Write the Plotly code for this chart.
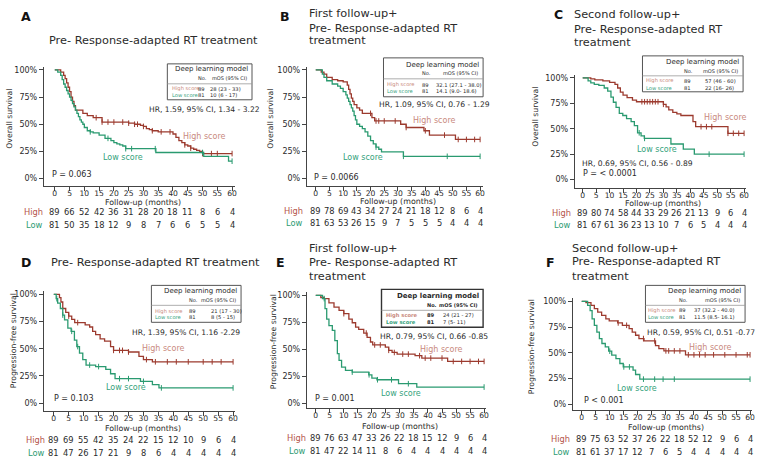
import plotly.graph_objects as go

W, H = 767, 459
FONT = "DejaVu Sans"
HIGH_C = "#9C3A2E"
LOW_C = "#2A9A70"
HIGH_T = "#C98A7E"
LOW_T = "#35A27C"
HIGH_ROW = "#B4554A"
LOW_ROW = "#2E9B73"
TXT = "#2b2b2b"

months = [0, 5, 10, 15, 20, 25, 30, 35, 40, 45, 50, 55, 60]
ytick_vals = [0, 0.25, 0.5, 0.75, 1.0]
ytick_text = ["0%", "25%", "50%", "75%", "100%"]

# ---------------- Panel A (OS, pre) ----------------
A_high_t = [0, 2, 3, 3.5, 4, 4.5, 5, 5.5, 6, 6.5, 7, 9.5, 11, 13, 16, 25, 27, 29, 30, 31, 32, 33, 35, 40, 41, 42, 43, 44, 45, 46, 47, 48, 49, 50, 60]
A_high_s = [1, 0.98, 0.95, 0.92, 0.88, 0.84, 0.80, 0.75, 0.71, 0.67, 0.63, 0.60, 0.58, 0.56, 0.52, 0.51, 0.50, 0.49, 0.48, 0.46, 0.45, 0.44, 0.43, 0.41, 0.38, 0.35, 0.33, 0.31, 0.30, 0.28, 0.27, 0.26, 0.25, 0.23, 0.23]
A_low_t = [0, 1, 2, 2.5, 3, 3.5, 4, 4.5, 5, 5.5, 6, 6.5, 7, 7.5, 8, 8.5, 9, 9.5, 10, 11, 12, 13, 15, 17, 19, 20, 21, 22, 23, 24, 34.2, 50.4, 58.8, 60]
A_low_s = [1, 0.98, 0.95, 0.91, 0.87, 0.84, 0.81, 0.78, 0.75, 0.72, 0.69, 0.66, 0.63, 0.60, 0.57, 0.54, 0.52, 0.50, 0.47, 0.44, 0.43, 0.42, 0.40, 0.37, 0.35, 0.33, 0.32, 0.31, 0.30, 0.275, 0.24, 0.205, 0.16, 0.16]
A_high_cens = [14, 16, 18, 20, 23, 25, 27, 28, 30, 33, 36, 39, 44, 46, 50, 53, 55, 60]
A_low_cens = [12, 18, 24, 26, 34, 50, 60]
A_risk_high = [89, 66, 52, 42, 36, 31, 28, 20, 18, 11, 8, 6, 4]
A_risk_low = [81, 50, 35, 18, 12, 9, 8, 7, 6, 6, 5, 5, 4]

# ---------------- Panel B (OS, first follow-up) ----------------
B_high_t = [0, 2, 3, 4, 6, 8, 10, 11.5, 12, 12.5, 13, 13.5, 14, 15, 16, 17, 20.5, 21.5, 31, 33, 39.5, 41.5, 51, 60]
B_high_s = [1, 0.98, 0.96, 0.93, 0.91, 0.90, 0.89, 0.86, 0.82, 0.78, 0.74, 0.71, 0.68, 0.65, 0.63, 0.60, 0.56, 0.53, 0.50, 0.47, 0.44, 0.40, 0.36, 0.36]
B_low_t = [0, 2.4, 3, 4, 6, 8, 9, 10, 11, 11.5, 12, 12.5, 13, 13.5, 14, 14.5, 15, 16, 17, 18, 19, 20, 21, 22, 23, 24, 32, 60]
B_low_s = [1, 0.96, 0.93, 0.90, 0.87, 0.85, 0.83, 0.80, 0.77, 0.74, 0.71, 0.68, 0.65, 0.62, 0.58, 0.54, 0.50, 0.48, 0.46, 0.43, 0.39, 0.35, 0.32, 0.29, 0.27, 0.245, 0.205, 0.205]
B_high_cens = [20, 22, 23, 25, 29, 33, 40, 47, 52, 55, 58, 60]
B_low_cens = [22, 32, 48, 60]
B_risk_high = [89, 78, 69, 43, 34, 27, 24, 21, 18, 12, 8, 6, 4]
B_risk_low = [81, 63, 53, 26, 15, 9, 7, 5, 5, 5, 4, 4, 4]

# ---------------- Panel C (OS, second follow-up) ----------------
C_high_t = [0, 3, 4.5, 7.5, 10, 12, 13, 14, 15, 16.5, 18.5, 20, 30, 31, 32, 33.5, 35, 36.5, 41, 42, 54, 60]
C_high_s = [1, 0.99, 0.98, 0.97, 0.955, 0.935, 0.90, 0.86, 0.83, 0.805, 0.78, 0.765, 0.74, 0.715, 0.685, 0.66, 0.645, 0.63, 0.57, 0.52, 0.455, 0.455]
C_low_t = [0, 2, 3, 4.3, 6, 8, 9.3, 10.5, 11.4, 12.4, 13.6, 14.9, 16.3, 18, 19.2, 20.4, 21.7, 22.9, 32.8, 37.4, 41.5, 60]
C_low_s = [1, 0.97, 0.95, 0.935, 0.925, 0.90, 0.87, 0.81, 0.76, 0.71, 0.65, 0.63, 0.60, 0.57, 0.53, 0.46, 0.43, 0.405, 0.35, 0.30, 0.25, 0.25]
C_high_cens = [22, 23, 24, 25, 26, 27, 28, 30, 44, 46, 48, 54, 56, 58, 60]
C_low_cens = [21, 23, 47, 60]
C_risk_high = [89, 80, 74, 58, 44, 33, 29, 26, 21, 13, 9, 6, 4]
C_risk_low = [81, 67, 61, 36, 23, 13, 10, 7, 6, 5, 4, 4, 4]

# ---------------- Panel D (PFS, pre) ----------------
D_high_t = [0, 1.9, 2.4, 3, 4, 5, 6, 7, 10.5, 12, 13, 14, 15.5, 17, 19, 20, 25, 28.5, 30, 33, 60]
D_high_s = [1, 0.97, 0.93, 0.87, 0.835, 0.80, 0.77, 0.74, 0.72, 0.70, 0.66, 0.63, 0.59, 0.57, 0.52, 0.485, 0.47, 0.43, 0.40, 0.38, 0.38]
D_low_t = [0, 0.8, 1.3, 2.2, 3, 3.6, 4.7, 5.8, 6.9, 7.7, 8.6, 9.7, 10.8, 14, 17.4, 19, 20.5, 29, 33, 35.2, 60]
D_low_s = [1, 0.96, 0.92, 0.87, 0.81, 0.765, 0.69, 0.66, 0.58, 0.52, 0.46, 0.40, 0.35, 0.336, 0.31, 0.27, 0.225, 0.20, 0.17, 0.14, 0.14]
D_high_cens = [5, 8, 20, 22, 23, 25, 31, 34, 38, 41, 45, 50, 53, 56, 60]
D_low_cens = [1, 3, 6, 8, 12, 15, 22, 25, 30, 36, 60]
D_risk_high = [89, 69, 55, 42, 35, 24, 22, 15, 12, 10, 9, 6, 4]
D_risk_low = [81, 47, 26, 17, 21, 9, 8, 6, 4, 4, 4, 4, 4]

# ---------------- Panel E (PFS, first follow-up) ----------------
E_high_t = [0, 1.8, 3, 4.7, 6.5, 8.3, 10, 11.8, 13, 14.2, 15.3, 17.1, 18.3, 19.5, 20.3, 24.8, 26, 27.2, 29, 35.4, 37.8, 47, 60]
E_high_s = [1, 0.98, 0.97, 0.93, 0.89, 0.86, 0.83, 0.78, 0.746, 0.706, 0.684, 0.65, 0.61, 0.567, 0.54, 0.52, 0.49, 0.47, 0.455, 0.44, 0.418, 0.387, 0.387]
E_low_t = [0, 2.4, 3.3, 3.9, 4.7, 5.9, 6.8, 7.7, 8.3, 9.2, 10.6, 13, 18.9, 20, 21.8, 29.5, 36, 60]
E_low_s = [1, 0.97, 0.876, 0.78, 0.72, 0.675, 0.58, 0.46, 0.396, 0.334, 0.303, 0.288, 0.263, 0.232, 0.217, 0.18, 0.149, 0.149]
E_high_cens = [10, 18, 21, 23, 26, 28, 31, 33, 37, 39, 41, 45, 49, 52, 55, 58, 60]
E_low_cens = [3, 13, 19, 22, 27, 33, 60]
E_risk_high = [89, 76, 63, 47, 33, 26, 22, 18, 15, 12, 9, 6, 4]
E_risk_low = [81, 47, 22, 14, 11, 8, 6, 4, 4, 4, 4, 4, 4]

# ---------------- Panel F (PFS, second follow-up) ----------------
F_high_t = [0, 1.5, 3.3, 4.5, 5.7, 7.1, 8.6, 9.8, 12.8, 14.5, 16.9, 18, 19.2, 20.4, 22.2, 26.3, 27.5, 29.3, 37, 60]
F_high_s = [1, 0.987, 0.96, 0.93, 0.896, 0.864, 0.83, 0.81, 0.79, 0.767, 0.735, 0.70, 0.67, 0.638, 0.615, 0.57, 0.54, 0.518, 0.48, 0.48]
F_low_t = [0, 2.1, 3, 3.7, 4.5, 5.4, 6.3, 7.2, 8.4, 9.6, 10.7, 12.2, 13.6, 14.8, 18.3, 19.2, 20.7, 60]
F_low_s = [1, 0.96, 0.91, 0.83, 0.767, 0.70, 0.638, 0.59, 0.557, 0.515, 0.476, 0.443, 0.395, 0.362, 0.33, 0.288, 0.243, 0.243]
F_high_cens = [13, 16, 22, 26, 30, 31, 33, 35, 38, 40, 42, 44, 47, 51, 55, 59, 60]
F_low_cens = [10, 15, 17, 22, 26, 29, 33, 60]
F_risk_high = [89, 75, 63, 52, 37, 26, 22, 18, 52, 12, 9, 6, 4]
F_risk_low = [81, 61, 37, 17, 12, 7, 6, 5, 4, 4, 4, 4, 4]

titles = {
    "A": ["Pre- Response-adapted RT treatment"],
    "B": ["First follow-up+", "Pre- Response-adapted RT", "treatment"],
    "C": ["Second follow-up+", "Pre- Response-adapted RT", "treatment"],
    "D": ["Pre- Response-adapted RT treatment"],
    "E": ["First follow-up+", "Pre- Response-adapted RT", "treatment"],
    "F": ["Second follow-up+", "Pre- Response-adapted RT", "treatment"],
}
ylabels = {"A": "Overall survival", "B": "Overall survival", "C": "Overall survival",
           "D": "Progression-free survival", "E": "Progression-free survival", "F": "Progression-free survival"}
n_high, n_low = 89, 81
mos_high = {"A": "28 (23 - 33)", "B": "32.1 (27.1 - 38.0)", "C": "57 (46 - 60)",
            "D": "21 (17 - 30)", "E": "24 (21 - 27)", "F": "37 (32.2 - 40.0)"}
mos_low = {"A": "10 (6 - 17)", "B": "14.1 (9.0- 18.6)", "C": "22 (16- 26)",
           "D": "8 (5 - 15)", "E": "7 (5- 11)", "F": "11.5 (8.5- 16.1)"}
hr_text = {"A": "HR, 1.59, 95% CI, 1.34 - 3.22", "B": "HR, 1.09, 95% CI, 0.76 - 1.29",
           "C": "HR, 0.69, 95% CI, 0.56 - 0.89", "D": "HR, 1.39, 95% CI, 1.16 -2.29",
           "E": "HR, 0.79, 95% CI, 0.66 -0.85", "F": "HR, 0.59, 95% CI, 0.51 -0.77"}
p_text = {"A": "P = 0.063", "B": "P = 0.0066", "C": "P = < 0.0001",
          "D": "P = 0.103", "E": "P = 0.001", "F": "P < 0.001"}

data = {
    "A": (A_high_t, A_high_s, A_low_t, A_low_s, A_high_cens, A_low_cens, A_risk_high, A_risk_low),
    "B": (B_high_t, B_high_s, B_low_t, B_low_s, B_high_cens, B_low_cens, B_risk_high, B_risk_low),
    "C": (C_high_t, C_high_s, C_low_t, C_low_s, C_high_cens, C_low_cens, C_risk_high, C_risk_low),
    "D": (D_high_t, D_high_s, D_low_t, D_low_s, D_high_cens, D_low_cens, D_risk_high, D_risk_low),
    "E": (E_high_t, E_high_s, E_low_t, E_low_s, E_high_cens, E_low_cens, E_risk_high, E_risk_low),
    "F": (F_high_t, F_high_s, F_low_t, F_low_s, F_high_cens, F_low_cens, F_risk_high, F_risk_low),
}

# ---------------- geometry (pixels) ----------------
G = {
    "A": dict(left=44, right=236, x0=55, x60=233, top=69, zero=178, bottom=185,
              letter=(26, 16), title=(47, [40]), ylab=(10, 118), rows=(211, 224), rowlab=45, fu=201.5,
              box=(168, 253, 63, 99), hdr=68, sub=77, sep=83, r1=88, r2=94, c1=171, c2=197, c3=209,
              hr=(148, 109), p=(50, 174), hl=(205, 136), ll=(123, 157), bold=False),
    "B": dict(left=308, right=485, x0=317, x60=482, top=69, zero=178, bottom=185,
              letter=(286, 16), title=(308, [13, 28, 40]), ylab=(272, 118), rows=(210.5, 222.5), rowlab=306, fu=201,
              box=(385, 485, 57, 96), hdr=64, sub=72, sep=78, r1=84, r2=90, c1=387, c2=422, c3=436,
              hr=(378, 104), p=(313, 177), hl=(436, 120), ll=(364, 157), bold=False),
    "C": dict(left=577, right=749, x0=585, x60=747, top=77, zero=179, bottom=187,
              letter=(561, 14), title=(574, [14, 29, 42]), ylab=(538, 116), rows=(212, 224), rowlab=575, fu=202.5,
              box=(645, 746, 55, 91), hdr=61, sub=70, sep=75, r1=80, r2=87, c1=647, c2=685, c3=706,
              hr=(582, 163), p=(583, 173), hl=(728, 117), ll=(660, 149), bold=False),
    "D": dict(left=44, right=236, x0=54, x60=234, top=294, zero=403, bottom=411,
              letter=(26, 262), title=(49, [262]), ylab=(13, 340), rows=(440, 453), rowlab=47, fu=428.5,
              box=(152, 242, 285, 322), hdr=291, sub=300, sep=305, r1=311, r2=317, c1=154, c2=188, c3=210,
              hr=(131, 332), p=(52, 398), hl=(164, 348), ll=(126, 387), bold=False),
    "E": dict(left=308, right=488, x0=317, x60=486, top=295, zero=403, bottom=408,
              letter=(282, 262), title=(308, [248, 262, 276]), ylab=(274, 341), rows=(438, 451), rowlab=309, fu=426.5,
              box=(383, 485, 289, 327), hdr=296, sub=305, sep=310, r1=315, r2=322, c1=386, c2=427, c3=443,
              hr=(379, 336), p=(314, 398), hl=(443, 349), ll=(403, 393), bold=True),
    "F": dict(left=575, right=755, x0=584, x60=753, top=301, zero=404, bottom=410,
              letter=(553, 262), title=(572, [248, 261, 276]), ylab=(533, 346), rows=(438.5, 451.5), rowlab=574, fu=427.5,
              box=(648, 748, 285, 322), hdr=291, sub=300, sep=305, r1=310, r2=317, c1=649, c2=680, c3=695,
              hr=(648, 332), p=(584, 400), hl=(713, 347), ll=(639, 388), bold=False),
}


def px(x):
    return x / W


def py(y):
    return 1 - y / H


def surv_at(ts, ss, t):
    v = ss[0]
    for ti, si in zip(ts, ss):
        if ti <= t:
            v = si
    return v


fig = go.Figure()
layout = dict(width=W, height=H, margin=dict(l=0, r=0, t=0, b=0),
              paper_bgcolor="white", plot_bgcolor="white", showlegend=False,
              font=dict(family=FONT, color=TXT))
annotations = []
shapes = []


def ann(text, x, y, size, color=TXT, xanchor="left", xref="paper", angle=0, yref="paper"):
    annotations.append(dict(text=text, x=x, y=y, xref=xref, yref=yref, xanchor=xanchor,
                            yanchor="middle", showarrow=False, textangle=angle,
                            font=dict(family=FONT, size=size, color=color)))


def b(s, on):
    return "<b>" + s + "</b>" if on else s


for i, key in enumerate(["A", "B", "C", "D", "E", "F"]):
    n = i + 1
    sfx = "" if n == 1 else str(n)
    g = G[key]
    hi_t, hi_s, lo_t, lo_s, hi_c, lo_c, rk_hi, rk_lo = data[key]
    sx = (g["x60"] - g["x0"]) / 60.0
    sy = (g["zero"] - g["top"]) / 1.0
    top_edge = g["top"] - 3
    xr = [(g["left"] - g["x0"]) / sx, (g["right"] - g["x0"]) / sx]
    yr = [(g["zero"] - g["bottom"]) / sy, (g["zero"] - top_edge) / sy]
    axis_common = dict(showgrid=False, zeroline=False, showline=True, linecolor="#444",
                       linewidth=1, ticks="outside", ticklen=4, tickcolor="#444",
                       tickfont=dict(family=FONT, size=8, color=TXT), fixedrange=True)
    layout["xaxis" + sfx] = dict(axis_common, domain=[px(g["left"]), px(g["right"])], range=xr,
                                 tickvals=months, anchor="y" + sfx, ticklabelstandoff=-4,
                                 tickfont=dict(family=FONT, size=7.6, color=TXT))
    layout["yaxis" + sfx] = dict(axis_common, domain=[py(g["bottom"]), py(top_edge)], range=yr,
                                 tickvals=ytick_vals, ticktext=ytick_text, anchor="x" + sfx)
    xa, ya = "x" + sfx, "y" + sfx
    for ts, ss, cens, col in ((hi_t, hi_s, hi_c, HIGH_C), (lo_t, lo_s, lo_c, LOW_C)):
        fig.add_trace(go.Scatter(x=ts, y=ss, mode="lines", line=dict(color=col, width=1.3, shape="hv"),
                                 xaxis=xa, yaxis=ya, hoverinfo="skip"))
        fig.add_trace(go.Scatter(x=cens, y=[surv_at(ts, ss, c) for c in cens], mode="markers",
                                 marker=dict(symbol="line-ns", size=4, line=dict(width=1, color=col)),
                                 xaxis=xa, yaxis=ya, hoverinfo="skip"))
    # risk table
    for t, vh, vl in zip(months, rk_hi, rk_lo):
        ann(str(vh), t, py(g["rows"][0]), 8.3, TXT, "center", xref=xa)
        ann(str(vl), t, py(g["rows"][1]), 8.3, TXT, "center", xref=xa)
    ann("High", px(g["rowlab"]), py(g["rows"][0]), 8.3, HIGH_ROW, "right")
    ann("Low", px(g["rowlab"]), py(g["rows"][1]), 8.3, LOW_ROW, "right")
    ann("Follow-up (months)", 30, py(g["fu"]), 7.9, TXT, "center", xref=xa)
    # y title
    ann(ylabels[key], px(g["ylab"][0]), py(g["ylab"][1]), 7.7, TXT, "center", angle=-90)
    # panel letter and title
    ann("<b>" + key + "</b>", px(g["letter"][0]), py(g["letter"][1]), 12.5, "#111", "center")
    for line, yy in zip(titles[key], g["title"][1]):
        ann(line, px(g["title"][0]), py(yy), 11.3, TXT, "left")
    # model box
    bx0, bx1, by0, by1 = g["box"]
    bo = g["bold"]
    shapes.append(dict(type="rect", xref="paper", yref="paper", x0=px(bx0), x1=px(bx1),
                       y0=py(by1), y1=py(by0), line=dict(color="#333" if bo else "#555", width=1.4 if bo else 1)))
    shapes.append(dict(type="line", xref="paper", yref="paper", x0=px(bx0), x1=px(bx1),
                       y0=py(g["sep"]), y1=py(g["sep"]), line=dict(color="#999", width=0.8)))
    ann(b("Deep learning model", bo), px(bx1 - 2), py(g["hdr"]), 7.0, TXT, "right")
    ann(b("No.", bo), px(g["c2"]), py(g["sub"]), 5.0, TXT, "left")
    ann(b("mOS (95% CI)", bo), px(bx1 - 3), py(g["sub"]), 5.0, TXT, "right")
    ann(b("High score", bo), px(g["c1"]), py(g["r1"]), 5.2, HIGH_T, "left")
    ann(b("Low score", bo), px(g["c1"]), py(g["r2"]), 5.2, LOW_T, "left")
    ann(b(str(n_high), bo), px(g["c2"]), py(g["r1"]), 5.2, TXT, "left")
    ann(b(str(n_low), bo), px(g["c2"]), py(g["r2"]), 5.2, TXT, "left")
    ann(mos_high[key], px(g["c3"]), py(g["r1"]), 5.2, TXT, "left")
    ann(mos_low[key], px(g["c3"]), py(g["r2"]), 5.2, TXT, "left")
    ann(hr_text[key], px(g["hr"][0]), py(g["hr"][1]), 7.6, TXT, "left")
    ann(p_text[key], px(g["p"][0]), py(g["p"][1]), 8.0, TXT, "left")
    ann("High score", px(g["hl"][0]), py(g["hl"][1]), 8.0, HIGH_T, "center")
    ann("Low score", px(g["ll"][0]), py(g["ll"][1]), 8.0, LOW_T, "center")

layout["annotations"] = annotations
layout["shapes"] = shapes
fig.update_layout(**layout)
fig.write_html("out.html")
